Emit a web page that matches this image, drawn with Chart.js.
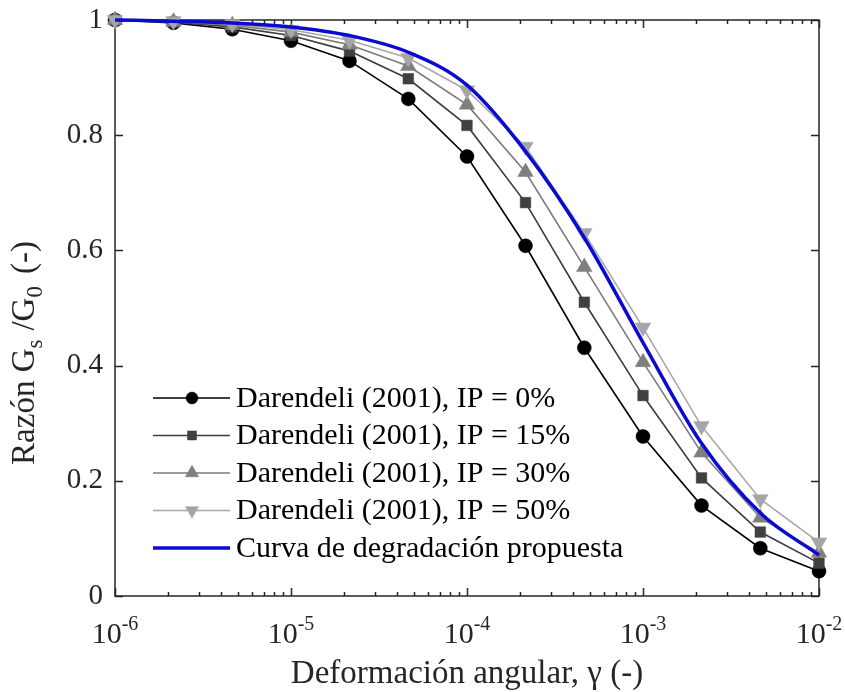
<!DOCTYPE html>
<html>
<head>
<meta charset="utf-8">
<script src="https://cdn.jsdelivr.net/npm/chart.js@4.4.0/dist/chart.umd.min.js"></script>
<style>
  body { margin: 0; background: #fff; }
  canvas { display: block; }
</style>
</head>
<body>
<canvas id="myChart" width="845" height="692"></canvas>
<script>
// shear strain (-), the same 13 points for every Darendeli curve
const strain = [1e-6, 2.15e-6, 4.64e-6, 1e-5, 2.15e-5, 4.64e-5, 1e-4, 2.15e-4, 4.64e-4, 1e-3, 2.15e-3, 4.64e-3, 1e-2]

// G/G0
const ip0 = [1.0, 0.995, 0.984, 0.964, 0.929, 0.863, 0.763, 0.608, 0.431, 0.277, 0.157, 0.083, 0.043]
const ip15 = [1.0, 0.996, 0.988, 0.973, 0.946, 0.898, 0.817, 0.683, 0.510, 0.348, 0.205, 0.111, 0.057]
const ip30 = [1.0, 0.997, 0.991, 0.979, 0.957, 0.920, 0.853, 0.736, 0.571, 0.406, 0.249, 0.136, 0.075]
const ip50 = [1.0, 0.998, 0.993, 0.983, 0.965, 0.934, 0.878, 0.780, 0.630, 0.466, 0.295, 0.168, 0.093]
const proposed = [1.0, 0.998, 0.995, 0.988, 0.973, 0.944, 0.887, 0.772, 0.622, 0.440, 0.265, 0.144, 0.071]

const labels = [
    'Darendeli (2001), IP = 0%',
    'Darendeli (2001), IP = 15%',
    'Darendeli (2001), IP = 30%',
    'Darendeli (2001), IP = 50%',
    'Curva de degradación propuesta'
]
const xDecades = [-6, -5, -4, -3, -2]
const yTicks = [0, 0.2, 0.4, 0.6, 0.8, 1]

const ctx = document.getElementById('myChart')
const SERIF = '"Liberation Serif", "Times New Roman", serif'
const AXIS = '#262626'

const toPoints = vals => vals.map((v, i) => ({ x: strain[i], y: v }))

const darendeli = (label, vals, line, fill, style, radius, rotation, order) => ({
    label: label,
    data: toPoints(vals),
    borderColor: line,
    backgroundColor: fill,
    borderWidth: 1.6,
    pointStyle: style,
    pointRadius: radius,
    pointRotation: rotation,
    pointBackgroundColor: fill,
    pointBorderColor: fill,
    pointBorderWidth: 0.5,
    tension: 0,
    clip: false,
    order: order
})

// draws the box, inner ticks, x labels with exponents, axis titles and legend
const axesPlugin = {
    id: 'axesPlugin',
    beforeDatasetsDraw(chart) {
        const c = chart.ctx
        const a = chart.chartArea
        const xs = chart.scales.x
        const ys = chart.scales.y
        c.save()
        c.strokeStyle = AXIS
        c.lineWidth = 1.5
        c.beginPath()
        xDecades.forEach(d => {
            for (let k = 1; k < 10; k++) {
                if (d === -2 && k > 1) break
                const px = Math.round(xs.getPixelForValue(k * Math.pow(10, d))) + 0.5
                const len = k === 1 ? 8 : 4
                c.moveTo(px, a.bottom); c.lineTo(px, a.bottom - len)
                c.moveTo(px, a.top); c.lineTo(px, a.top + len)
            }
        })
        yTicks.forEach(v => {
            const py = Math.round(ys.getPixelForValue(v)) + 0.5
            c.moveTo(a.left, py); c.lineTo(a.left + 8, py)
            c.moveTo(a.right, py); c.lineTo(a.right - 8, py)
        })
        c.stroke()
        c.strokeRect(a.left, a.top, a.right - a.left, a.bottom - a.top)

        // x tick labels 10^n
        c.fillStyle = AXIS
        c.textBaseline = 'alphabetic'
        c.textAlign = 'left'
        xDecades.forEach(d => {
            const px = xs.getPixelForValue(Math.pow(10, d))
            c.font = '30px ' + SERIF
            const wb = c.measureText('10').width
            c.font = '20px ' + SERIF
            const we = c.measureText(String(d)).width
            const x0 = px - (wb + we) / 2
            c.font = '30px ' + SERIF
            c.fillText('10', x0, a.bottom + 47)
            c.font = '20px ' + SERIF
            c.fillText(String(d), x0 + wb, a.bottom + 34)
        })

        // x title
        c.font = '33px ' + SERIF
        c.textAlign = 'center'
        c.fillText('Deformación angular, γ (-)', (a.left + a.right) / 2, a.bottom + 87)

        // y title with subscripts, rotated
        const parts = [
            ['Razón G', 33, 0, 0], ['s', 23, 8, 9], ['/G', 33, 0, 0], ['0', 23, 8, 12], ['(-)', 33, 0, 0]
        ]
        let total = 0
        parts.forEach(p => { c.font = p[1] + 'px ' + SERIF; total += c.measureText(p[0]).width + p[3] })
        c.translate(34, (a.top + a.bottom) / 2 + 45)
        c.rotate(-Math.PI / 2)
        c.textAlign = 'left'
        let x = -total / 2
        parts.forEach(p => {
            c.font = p[1] + 'px ' + SERIF
            c.fillText(p[0], x, p[2])
            x += c.measureText(p[0]).width + p[3]
        })
        c.restore()
    },
    afterDraw(chart) {
        const c = chart.ctx
        const a = chart.chartArea
        c.save()
        c.font = '30px ' + SERIF
        c.textBaseline = 'middle'
        c.textAlign = 'left'
        chart.data.datasets.forEach((ds, i) => {
            const y = a.bottom - 198 + i * 37.5
            const x0 = a.left + 38
            c.strokeStyle = ds.borderColor
            c.lineWidth = ds.borderWidth
            c.beginPath()
            c.moveTo(x0, y); c.lineTo(x0 + 77, y)
            c.stroke()
            if (ds.pointRadius > 0) {
                c.fillStyle = ds.pointBackgroundColor
                c.strokeStyle = ds.pointBorderColor
                c.lineWidth = ds.pointBorderWidth
                Chart.helpers.drawPoint(c, {
                    pointStyle: ds.pointStyle,
                    radius: ds.pointRadius * 0.85,
                    rotation: ds.pointRotation,
                    borderWidth: ds.pointBorderWidth
                }, x0 + 39, y)
            }
            c.fillStyle = '#000'
            c.fillText(ds.label, x0 + 83, y + 1)
        })
        c.restore()
    }
}

new Chart(ctx, {
    type: 'line',
    data: {
        datasets: [
            darendeli(labels[0], ip0, '#000000', '#000000', 'circle', 7, 0, 5),
            darendeli(labels[1], ip15, '#3c3c3c', '#404040', 'rect', 7.5, 0, 4),
            darendeli(labels[2], ip30, '#7a7a7a', '#7f7f7f', 'triangle', 9, 0, 3),
            darendeli(labels[3], ip50, '#a8a8a8', '#a6a6a6', 'triangle', 9, 180, 2),
            {
                label: labels[4],
                data: toPoints(proposed),
                borderColor: '#0a0ad0',
                borderWidth: 3.5,
                pointRadius: 0,
                cubicInterpolationMode: 'monotone',
                clip: false,
                order: 1
            }
        ]
    },
    options: {
        responsive: false,
        animation: false,
        layout: { padding: { left: 0, top: 20, right: 26, bottom: 0 } },
        plugins: {
            legend: { display: false },
            tooltip: { enabled: false }
        },
        scales: {
            x: {
                type: 'logarithmic',
                min: 1e-6,
                max: 1e-2,
                grid: { display: false },
                border: { display: false },
                ticks: { display: false },
                afterFit: scale => { scale.height = 96; scale.paddingLeft = 0; scale.paddingRight = 0 }
            },
            y: {
                min: 0,
                max: 1,
                grid: { display: false, drawTicks: false },
                border: { display: false },
                ticks: {
                    stepSize: 0.2,
                    padding: 12,
                    color: AXIS,
                    font: { family: SERIF, size: 29 },
                    callback: v => (v === 0 || v === 1) ? String(v) : v.toFixed(1)
                },
                afterFit: scale => { scale.width = 115; scale.paddingTop = 0; scale.paddingBottom = 0 }
            }
        }
    },
    plugins: [axesPlugin]
})
</script>
</body>
</html>
